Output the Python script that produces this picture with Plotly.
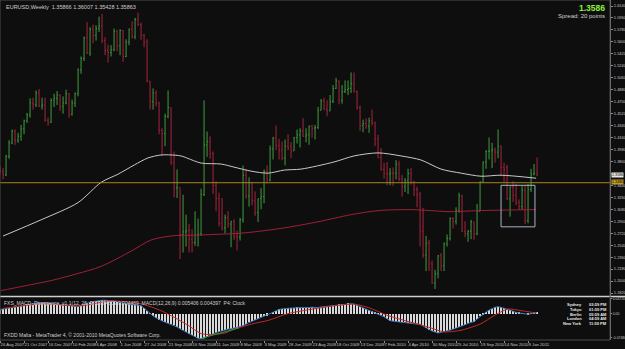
import plotly.graph_objects as go

# ---------------- data ----------------
DATE_LABELS = ["26 Aug 2007", "21 Oct 2007", "16 Dec 2007", "10 Feb 2008", "6 Apr 2008",
               "1 Jun 2008", "27 Jul 2008", "21 Sep 2008", "16 Nov 2008", "11 Jan 2009",
               "8 Mar 2009", "3 May 2009", "28 Jun 2009", "23 Aug 2009", "18 Oct 2009",
               "13 Dec 2009", "7 Feb 2010", "4 Apr 2010", "30 May 2010", "25 Jul 2010",
               "19 Sep 2010", "14 Nov 2010", "9 Jan 2011"]
LABEL_EVERY = 8  # weeks between time labels

OPEN = [1.3700, 1.3650, 1.3600, 1.3880, 1.4080, 1.4260, 1.4120, 1.4180, 1.4290, 1.4410,
        1.4500, 1.4680, 1.4650, 1.4830, 1.4630, 1.4650, 1.4420, 1.4390, 1.4720, 1.4750,
        1.4800, 1.4630, 1.4680, 1.4820, 1.4510, 1.4680, 1.4820, 1.5180, 1.5350, 1.5660,
        1.5430, 1.5790, 1.5700, 1.5800, 1.5840, 1.5620, 1.5470, 1.5440, 1.5480, 1.5760,
        1.5540, 1.5770, 1.5380, 1.5600, 1.5790, 1.5680, 1.5940, 1.5860, 1.5700, 1.5600,
        1.5010, 1.4700, 1.4830, 1.4680, 1.4270, 1.4220, 1.4480, 1.4610, 1.3780, 1.3400,
        1.3410, 1.2700, 1.2740, 1.2760, 1.2630, 1.2580, 1.2690, 1.2710, 1.3300, 1.4050,
        1.4100, 1.3920, 1.3440, 1.3240, 1.2870, 1.2800, 1.2950, 1.2860, 1.2900, 1.2670,
        1.2660, 1.2920, 1.3590, 1.3280, 1.3480, 1.3210, 1.3030, 1.3240, 1.3270, 1.3650,
        1.3520, 1.3990, 1.4150, 1.4040, 1.3970, 1.3850, 1.4030, 1.4030, 1.3960, 1.4160,
        1.4200, 1.4260, 1.4180, 1.4200, 1.4330, 1.4300, 1.4310, 1.4570, 1.4710, 1.4580,
        1.4560, 1.4700, 1.4900, 1.5010, 1.4720, 1.4850, 1.4880, 1.4900, 1.4970, 1.4850,
        1.4610, 1.4340, 1.4370, 1.4330, 1.4410, 1.4380, 1.4140, 1.3860, 1.3680, 1.3620,
        1.3610, 1.3630, 1.3620, 1.3760, 1.3530, 1.3420, 1.3510, 1.3620, 1.3490, 1.3380,
        1.3300, 1.2750, 1.2390, 1.2570, 1.2260, 1.1970, 1.2110, 1.2380, 1.2230, 1.2560,
        1.2640, 1.2940, 1.2900, 1.3060, 1.3280, 1.2750, 1.2710, 1.2750, 1.2890, 1.2710,
        1.3050, 1.3490, 1.3790, 1.3950, 1.3960, 1.3960, 1.3940, 1.4030, 1.3710, 1.3710,
        1.3240, 1.3420, 1.3290, 1.3180, 1.3120, 1.3370, 1.2910, 1.3380, 1.3610, 1.3620]
HIGH = [1.3740, 1.3700, 1.3900, 1.4120, 1.4280, 1.4280, 1.4230, 1.4350, 1.4430, 1.4530,
        1.4750, 1.4760, 1.4870, 1.4890, 1.4760, 1.4760, 1.4460, 1.4750, 1.4820, 1.4860,
        1.4810, 1.4780, 1.4880, 1.4830, 1.4730, 1.4840, 1.5200, 1.5380, 1.5680, 1.5900,
        1.5820, 1.5860, 1.5850, 1.5980, 1.6020, 1.5670, 1.5560, 1.5550, 1.5800, 1.5780,
        1.5790, 1.5780, 1.5640, 1.5800, 1.5910, 1.5960, 1.6040, 1.5890, 1.5720, 1.5640,
        1.5010, 1.4900, 1.4870, 1.4700, 1.4300, 1.4520, 1.4870, 1.4610, 1.3950, 1.3680,
        1.3410, 1.3300, 1.3000, 1.2860, 1.2780, 1.3050, 1.2940, 1.3390, 1.4720, 1.4250,
        1.4180, 1.3950, 1.3500, 1.3330, 1.3250, 1.3000, 1.3050, 1.2900, 1.2930, 1.2760,
        1.2950, 1.3740, 1.3690, 1.3560, 1.3480, 1.3350, 1.3240, 1.3400, 1.3680, 1.3740,
        1.4040, 1.4170, 1.4340, 1.4140, 1.4100, 1.4130, 1.4210, 1.4090, 1.4170, 1.4280,
        1.4300, 1.4450, 1.4300, 1.4340, 1.4350, 1.4350, 1.4620, 1.4740, 1.4760, 1.4720,
        1.4800, 1.4950, 1.5060, 1.5020, 1.4950, 1.5020, 1.5020, 1.5140, 1.5140, 1.4870,
        1.4640, 1.4430, 1.4450, 1.4460, 1.4580, 1.4400, 1.4200, 1.4000, 1.3780, 1.3790,
        1.3700, 1.3710, 1.3820, 1.3810, 1.3600, 1.3550, 1.3690, 1.3700, 1.3510, 1.3420,
        1.3340, 1.3100, 1.2680, 1.2620, 1.2310, 1.2170, 1.2390, 1.2420, 1.2580, 1.2700,
        1.2960, 1.2960, 1.3110, 1.3330, 1.3300, 1.2900, 1.2770, 1.2920, 1.2890, 1.3160,
        1.3500, 1.3800, 1.3970, 1.4160, 1.4080, 1.4010, 1.4280, 1.4040, 1.3780, 1.3750,
        1.3420, 1.3500, 1.3460, 1.3230, 1.3430, 1.3440, 1.3460, 1.3690, 1.3760, 1.3860]
LOW = [1.3600, 1.3530, 1.3580, 1.3840, 1.4060, 1.4050, 1.4080, 1.4110, 1.4210, 1.4380,
       1.4460, 1.4580, 1.4620, 1.4620, 1.4580, 1.4400, 1.4340, 1.4380, 1.4620, 1.4650,
       1.4560, 1.4520, 1.4660, 1.4460, 1.4490, 1.4620, 1.4780, 1.5120, 1.5310, 1.5420,
       1.5390, 1.5580, 1.5620, 1.5750, 1.5580, 1.5400, 1.5290, 1.5380, 1.5460, 1.5460,
       1.5400, 1.5300, 1.5370, 1.5550, 1.5650, 1.5640, 1.5840, 1.5630, 1.5520, 1.4990,
       1.4580, 1.4580, 1.4630, 1.4210, 1.3880, 1.4030, 1.4450, 1.3750, 1.3260, 1.3250,
       1.2330, 1.2430, 1.2520, 1.2430, 1.2430, 1.2530, 1.2520, 1.2680, 1.3280, 1.3870,
       1.3840, 1.3310, 1.3050, 1.2820, 1.2760, 1.2720, 1.2800, 1.2510, 1.2620, 1.2460,
       1.2610, 1.2880, 1.3240, 1.3120, 1.3140, 1.2980, 1.2890, 1.3080, 1.3170, 1.3470,
       1.3500, 1.3830, 1.3970, 1.3830, 1.3820, 1.3740, 1.3970, 1.3850, 1.3960, 1.4070,
       1.4010, 1.4170, 1.4090, 1.4050, 1.4160, 1.4130, 1.4290, 1.4570, 1.4580, 1.4480,
       1.4560, 1.4680, 1.4890, 1.4660, 1.4670, 1.4830, 1.4800, 1.4830, 1.4840, 1.4580,
       1.4260, 1.4240, 1.4290, 1.4230, 1.4340, 1.4030, 1.3850, 1.3660, 1.3540, 1.3440,
       1.3440, 1.3430, 1.3530, 1.3500, 1.3270, 1.3340, 1.3310, 1.3450, 1.3280, 1.3110,
       1.2520, 1.2350, 1.2150, 1.2150, 1.1960, 1.1880, 1.2040, 1.2150, 1.2150, 1.2520,
       1.2610, 1.2790, 1.2850, 1.3030, 1.2740, 1.2660, 1.2590, 1.2630, 1.2620, 1.2690,
       1.3050, 1.3480, 1.3690, 1.3830, 1.3700, 1.3780, 1.3850, 1.3580, 1.3480, 1.3220,
       1.2970, 1.3190, 1.3140, 1.3070, 1.3070, 1.2860, 1.2870, 1.3340, 1.3590, 1.3580]
CLOSE = [1.3650, 1.3600, 1.3880, 1.4080, 1.4260, 1.4120, 1.4180, 1.4290, 1.4410, 1.4500,
         1.4680, 1.4650, 1.4830, 1.4630, 1.4650, 1.4420, 1.4390, 1.4720, 1.4750, 1.4800,
         1.4630, 1.4680, 1.4820, 1.4510, 1.4680, 1.4820, 1.5180, 1.5350, 1.5660, 1.5430,
         1.5790, 1.5700, 1.5800, 1.5840, 1.5620, 1.5470, 1.5440, 1.5480, 1.5760, 1.5540,
         1.5770, 1.5380, 1.5600, 1.5790, 1.5680, 1.5940, 1.5860, 1.5700, 1.5600, 1.5010,
         1.4700, 1.4830, 1.4680, 1.4270, 1.4220, 1.4480, 1.4610, 1.3780, 1.3400, 1.3410,
         1.2700, 1.2740, 1.2760, 1.2630, 1.2580, 1.2690, 1.2710, 1.3300, 1.4050, 1.4100,
         1.3920, 1.3440, 1.3240, 1.2870, 1.2800, 1.2950, 1.2860, 1.2900, 1.2670, 1.2660,
         1.2920, 1.3590, 1.3280, 1.3480, 1.3210, 1.3030, 1.3240, 1.3270, 1.3650, 1.3520,
         1.3990, 1.4150, 1.4040, 1.3970, 1.3850, 1.4030, 1.4000, 1.3960, 1.4160, 1.4200,
         1.4260, 1.4180, 1.4200, 1.4330, 1.4300, 1.4310, 1.4570, 1.4710, 1.4580, 1.4560,
         1.4700, 1.4900, 1.5010, 1.4720, 1.4850, 1.4880, 1.4900, 1.4970, 1.4850, 1.4610,
         1.4340, 1.4370, 1.4330, 1.4410, 1.4380, 1.4140, 1.3860, 1.3680, 1.3620, 1.3610,
         1.3630, 1.3620, 1.3760, 1.3530, 1.3420, 1.3510, 1.3620, 1.3490, 1.3380, 1.3300,
         1.2750, 1.2390, 1.2570, 1.2260, 1.1970, 1.2110, 1.2380, 1.2230, 1.2560, 1.2640,
         1.2940, 1.2900, 1.3060, 1.3280, 1.2750, 1.2710, 1.2750, 1.2890, 1.2710, 1.3050,
         1.3490, 1.3790, 1.3950, 1.3960, 1.3980, 1.3940, 1.4030, 1.3710, 1.3680, 1.3240,
         1.3420, 1.3290, 1.3180, 1.3120, 1.3370, 1.2910, 1.3380, 1.3610, 1.3620, 1.3586]

# moving averages (read at sample weeks)
MA_WHITE_WEEKS = [1, 13.7, 26, 33.7, 39.3, 44.7, 49.3, 53.7, 57, 60.3, 67, 73.7, 78, 83.7,
                  89.3, 94.7, 100.3, 111.3, 118, 126, 133.7, 140.3, 147, 153.7, 160.3, 167, 178.7]
MA_WHITE_VALUES = [1.2678, 1.2922, 1.3181, 1.3486, 1.3608, 1.3746, 1.3853, 1.3898, 1.3898,
                   1.3883, 1.3776, 1.3761, 1.3715, 1.3654, 1.3624, 1.3670, 1.3685, 1.3792,
                   1.3883, 1.3929, 1.3883, 1.3822, 1.3685, 1.3624, 1.3578, 1.3593, 1.3548]
MA_RED_WEEKS = [0.3, 7, 17, 26, 33.7, 43.7, 50.3, 57, 67, 81.3, 94.7, 106, 117, 126, 137,
                150.3, 159.3, 178.7]
MA_RED_VALUES = [1.1855, 1.1916, 1.2007, 1.2114, 1.2221, 1.2450, 1.2617, 1.2678, 1.2694,
                 1.2724, 1.2800, 1.2892, 1.2999, 1.3060, 1.3075, 1.3044, 1.3060, 1.3075]

# MACD main value per week
MACD = [0.014,
        0.015, 0.017, 0.019, 0.020, 0.022, 0.024, 0.026,
        0.028, 0.030, 0.031, 0.033, 0.034, 0.035,
        0.036, 0.035, 0.034, 0.033, 0.032, 0.031, 0.031,
        0.030, 0.028, 0.027, 0.025, 0.024, 0.023,
        0.027, 0.031, 0.035,
        0.037, 0.039, 0.041, 0.042, 0.043,
        0.043, 0.042, 0.042, 0.041,
        0.039, 0.036, 0.034, 0.031,
        0.030, 0.029, 0.028, 0.027, 0.026,
        0.018, 0.009, 0.001,
        -0.006, -0.012, -0.018, -0.022,
        -0.026, -0.030, -0.033, -0.036,
        -0.041, -0.047, -0.052, -0.057, -0.062,
        -0.067, -0.072, -0.077, -0.078, -0.077,
        -0.072, -0.067, -0.062,
        -0.059, -0.056, -0.053, -0.051, -0.048,
        -0.047, -0.045, -0.043, -0.041,
        -0.037, -0.032, -0.027, -0.022, -0.019,
        -0.015, -0.011, -0.008, -0.005,
        0.000, 0.005, 0.010, 0.014,
        0.016, 0.017, 0.018, 0.019, 0.020,
        0.021, 0.020, 0.020, 0.019, 0.020, 0.021, 0.020, 0.020,
        0.022, 0.023, 0.025, 0.026, 0.028,
        0.029, 0.030, 0.031, 0.032, 0.033,
        0.032, 0.031,
        0.027, 0.023, 0.019, 0.016,
        0.012, 0.008, 0.004, 0.001, -0.003,
        -0.009, -0.015, -0.021,
        -0.023, -0.024, -0.025, -0.026, -0.027, -0.028,
        -0.029, -0.030, -0.032, -0.033,
        -0.038, -0.044, -0.050,
        -0.054, -0.057, -0.060,
        -0.058, -0.056, -0.055,
        -0.051, -0.048, -0.045, -0.042,
        -0.038, -0.034, -0.030, -0.027, -0.024,
        -0.016, -0.008, -0.001,
        0.006, 0.012, 0.017,
        0.021, 0.023,
        0.021, 0.018, 0.015,
        0.012, 0.008, 0.005,
        0.003, 0.001, 0.000, -0.001,
        0.001, 0.003, 0.004]
SIGNAL_WEEKS = [1, 13.7, 27, 37, 47, 53.7, 58, 62.7, 67, 71, 75, 78, 84.7, 89.3, 96, 102.7,
                111.3, 118, 122.7, 129.3, 136, 142.7, 148, 153.7, 160.3, 164.7, 169.3,
                173.7, 178.7]
SIGNAL_VALUES = [0.0172, 0.0317, 0.0256, 0.0410, 0.0317, 0.0102, -0.0105, -0.0360, -0.0620,
                 -0.0650, -0.0600, -0.0484, -0.0300, -0.0206, 0.0010, 0.0130, 0.0256, 0.0308,
                 0.0203, -0.0052, -0.0237, -0.0413, -0.0567, -0.0514, -0.0308, -0.0052,
                 0.0154, 0.0102, 0.0031]
DIVERGENCE_WEEKS = [67, 79.7]
DIVERGENCE_VALUES = [-0.077, -0.044]

PRICE_TICKS = [1.6140, 1.5960, 1.5780, 1.5600, 1.5420, 1.5240, 1.5060, 1.4880, 1.4700,
               1.4520, 1.4340, 1.4160, 1.3980, 1.3800, 1.3620, 1.3440, 1.3260, 1.3080,
               1.2900, 1.2720, 1.2540, 1.2360, 1.2180, 1.2000, 1.1820]
MACD_TICKS = [0.0472, 0.0, -0.0748]
MACD_TICK_TEXT = ["0.04720", "0.00", "-0.07480"]

BID = 1.3586
HLINE_PRICE = 1.3480
BOX_WEEKS = [167, 178.3]
BOX_PRICES = [1.2816, 1.3441]

TITLE = "EURUSD,Weekly  1.35866 1.36007 1.35428 1.35863"
SUBTITLE = ("FXS_MACD_Divergence_v1.1(12, 26, 9) 0.004609 0.004469  "
            "MACD(12,26,9) 0.005406 0.004397  P4: Clock")
COPYRIGHT = "FXDD Malta - MetaTrader 4, \u00a9 2001-2010 MetaQuotes Software Corp."
CLOCK_CITIES = ["Sydney", "Tokyo", "Berlin", "London", "New York"]
CLOCK_TIMES = ["03:59 PM", "01:59 PM", "05:59 AM", "04:59 AM", "11:59 PM"]

# ---------------- style ----------------
W, H = 625, 349
ML, MR, MT, MB = 0, 15, 0, 9
PW, PH = W - ML - MR, H - MT - MB
BG = "#0e0e0e"
GREEN = "#3f9e3f"
RED = "#a8233f"
FONT = "Liberation Sans"
PX_PER_WEEK = 3.0


def px_x(p):
    return p / PW


def px_y(p):
    return (PH - p) / PH


main_dom = [px_y(296), 1.0]
macd_dom = [0.0, px_y(298)]

weeks = list(range(len(CLOSE)))
x_lo = -0.02
x_hi = x_lo + PW / PX_PER_WEEK

fig = go.Figure()
fig.add_trace(go.Ohlc(x=weeks, open=OPEN, high=HIGH, low=LOW, close=CLOSE,
                      increasing=dict(line=dict(color=GREEN, width=1)),
                      decreasing=dict(line=dict(color=RED, width=1)),
                      tickwidth=0.3, hoverinfo="skip", xaxis="x", yaxis="y"))
fig.add_trace(go.Scatter(x=MA_WHITE_WEEKS, y=MA_WHITE_VALUES, mode="lines",
                         line=dict(color="#c8c8c8", width=1, shape="spline", smoothing=0.8),
                         xaxis="x", yaxis="y", hoverinfo="skip"))
fig.add_trace(go.Scatter(x=MA_RED_WEEKS, y=MA_RED_VALUES, mode="lines",
                         line=dict(color="#9e2038", width=1, shape="spline", smoothing=0.8),
                         xaxis="x", yaxis="y", hoverinfo="skip"))

# MACD panel
fig.add_trace(go.Bar(x=weeks, y=MACD, width=0.34, marker=dict(color="#d8d8d8", line=dict(width=0)),
                     xaxis="x2", yaxis="y2", hoverinfo="skip"))
fig.add_trace(go.Scatter(x=weeks, y=MACD, mode="lines", line=dict(color="#3e78c0", width=1),
                         xaxis="x2", yaxis="y2", hoverinfo="skip"))
fig.add_trace(go.Scatter(x=SIGNAL_WEEKS, y=SIGNAL_VALUES, mode="lines",
                         line=dict(color="#c02828", width=1, shape="spline", smoothing=0.7),
                         xaxis="x2", yaxis="y2", hoverinfo="skip"))
fig.add_trace(go.Scatter(x=DIVERGENCE_WEEKS, y=DIVERGENCE_VALUES, mode="lines",
                         line=dict(color="#2f9a2f", width=1), xaxis="x2", yaxis="y2",
                         hoverinfo="skip"))

tick_weeks = [LABEL_EVERY * k for k in range(len(DATE_LABELS))]
date_font = dict(family=FONT, size=4.2, color="#c8c8c8")
price_font = dict(family=FONT, size=4, color="#c8c8c8")
macd_font = dict(family=FONT, size=3.4, color="#c8c8c8")

scale = (PRICE_TICKS[0] - PRICE_TICKS[-1]) / (293 - 6)
p_top = PRICE_TICKS[0] + 6 * scale
p_bot = PRICE_TICKS[0] - (296 - 6) * scale

# the bid label covers the tick label beneath it, as in the terminal
price_text = ["" if abs(v - BID) < 0.006 else f"{v:.4f}" for v in PRICE_TICKS]

fig.update_layout(
    width=W, height=H, margin=dict(l=ML, r=MR, t=MT, b=MB, autoexpand=False),
    paper_bgcolor=BG, plot_bgcolor=BG, showlegend=False, bargap=0,
    xaxis=dict(domain=[0, 1], range=[x_lo, x_hi], anchor="y", showticklabels=False,
               showgrid=False, zeroline=False, ticks="", automargin=False,
               rangeslider=dict(visible=False)),
    xaxis2=dict(domain=[0, 1], range=[x_lo, x_hi], anchor="y2", matches="x",
                tickmode="array", tickvals=tick_weeks, ticktext=DATE_LABELS,
                ticks="outside", ticklen=2, tickcolor="#909090", tickangle=0,
                ticklabelposition="outside right", tickfont=date_font, automargin=False,
                showgrid=False, zeroline=False, showline=False),
    yaxis=dict(domain=main_dom, range=[p_bot, p_top], side="right", anchor="x",
               tickmode="array", tickvals=PRICE_TICKS, ticktext=price_text,
               ticks="outside", ticklen=2, tickcolor="#909090", tickfont=price_font,
               showgrid=False, zeroline=False, automargin=False,
               showline=True, linecolor="#8a8a8a", linewidth=1),
    yaxis2=dict(domain=macd_dom, range=[-0.0822, 0.0502], side="right", anchor="x2",
                tickmode="array", tickvals=MACD_TICKS, ticktext=MACD_TICK_TEXT,
                ticks="outside", ticklen=1, tickcolor="#909090", tickfont=macd_font,
                showgrid=False, zeroline=False, showline=True, linecolor="#8a8a8a",
                linewidth=1, automargin=False),
)

shapes = [
    dict(type="line", xref="paper", yref="y", x0=0, x1=1, y0=HLINE_PRICE, y1=HLINE_PRICE,
         line=dict(color="#a8841c", width=1)),
    dict(type="rect", xref="x", yref="y", x0=BOX_WEEKS[0], x1=BOX_WEEKS[1],
         y0=BOX_PRICES[0], y1=BOX_PRICES[1], line=dict(color="#a6b4c0", width=1)),
    dict(type="line", xref="paper", yref="paper", x0=0, x1=1.03, y0=px_y(296.5),
         y1=px_y(296.5), line=dict(color="#d0d0d0", width=1.5)),
    dict(type="rect", xref="paper", yref="paper", x0=0, x1=1, y0=px_y(340), y1=1,
         line=dict(color="#4a4a4a", width=1)),
]
fig.update_layout(shapes=shapes)

ann = []
ann.append(dict(text=TITLE, xref="paper", yref="paper", x=px_x(4), y=1, yshift=-2,
                xanchor="left", yanchor="top", showarrow=False,
                font=dict(family=FONT, size=5.5, color="#cfcfcf")))
ann.append(dict(text=f"<b>{BID:.4f}</b>", xref="paper", yref="paper", x=px_x(607), y=1,
                yshift=-1, xanchor="right", yanchor="top", showarrow=False,
                font=dict(family=FONT, size=8.5, color="#8cf03c")))
ann.append(dict(text="Spread: 20 points", xref="paper", yref="paper", x=px_x(607),
                y=px_y(11), xanchor="right", yanchor="top", showarrow=False,
                font=dict(family=FONT, size=6, color="#d0d0d0")))
ann.append(dict(text=f"{BID:.4f}", xref="paper", yref="y", x=1, y=BID, xanchor="left",
                xshift=1, yshift=1, showarrow=False, bgcolor="#e6e6e6", borderpad=0,
                font=dict(family=FONT, size=3.7, color="#000000")))
ann.append(dict(text=f"{HLINE_PRICE:.4f}", xref="paper", yref="y", x=1, y=HLINE_PRICE,
                xanchor="left", xshift=1, yshift=0.5, showarrow=False, bgcolor="#c09a28",
                borderpad=0, font=dict(family=FONT, size=3.7, color="#000000")))
ann.append(dict(text=SUBTITLE, xref="paper", yref="paper", x=px_x(2), y=px_y(297.5),
                xanchor="left", yanchor="top", showarrow=False,
                font=dict(family=FONT, size=5, color="#cfcfcf")))
ann.append(dict(text=COPYRIGHT, xref="paper", yref="paper", x=px_x(2), y=px_y(340),
                xanchor="left", yanchor="bottom", showarrow=False,
                font=dict(family=FONT, size=5, color="#cfcfcf")))
clock_rows = [304.5, 309.3, 314, 318.8, 323.6]
for city, t, ry in zip(CLOCK_CITIES, CLOCK_TIMES, clock_rows):
    ann.append(dict(text=f"<b>{city}</b>", xref="paper", yref="paper", x=px_x(584),
                    y=px_y(ry), xanchor="right", yanchor="middle", showarrow=False,
                    font=dict(family=FONT, size=4, color="#e8e8e8")))
    ann.append(dict(text=f"<b>{t}</b>", xref="paper", yref="paper", x=px_x(587),
                    y=px_y(ry), xanchor="left", yanchor="middle", showarrow=False,
                    font=dict(family=FONT, size=4, color="#e8e8e8")))
fig.update_layout(annotations=ann)

fig.write_html("out.html")
